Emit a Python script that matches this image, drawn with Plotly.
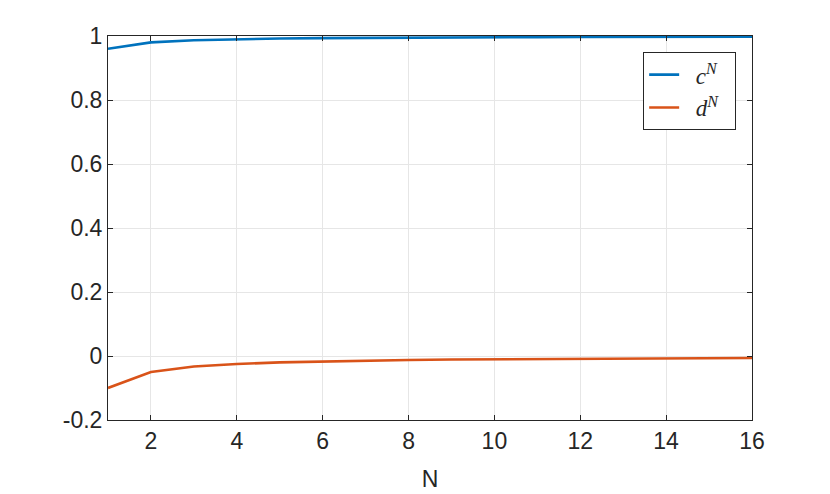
import plotly.graph_objects as go

n_vals = list(range(1, 17))
c_vals = [0.960, 0.980, 0.9867, 0.990, 0.992, 0.9933, 0.9943, 0.995,
          0.9956, 0.996, 0.9964, 0.9967, 0.9969, 0.9971, 0.9973, 0.9975]
d_vals = [-0.100, -0.050, -0.033, -0.025, -0.020, -0.017, -0.014, -0.0125,
          -0.011, -0.010, -0.009, -0.0083, -0.0077, -0.0071, -0.0067, -0.0063]

x_ticks = [2, 4, 6, 8, 10, 12, 14, 16]
y_ticks = [-0.2, 0, 0.2, 0.4, 0.6, 0.8, 1]
y_ticktext = ["-0.2", "0", "0.2", "0.4", "0.6", "0.8", "1"]

axis_color = "#262626"
grid_color = "#e6e6e6"
tick_font = dict(family="Liberation Sans, Arial", size=23, color=axis_color)

fig = go.Figure()
fig.add_trace(go.Scatter(x=n_vals, y=c_vals, mode="lines",
                         name="\u2002<i>c</i><sup><i>N</i>\u00a0\u00a0\u00a0</sup>",
                         line=dict(color="#0072BD", width=2.6)))
fig.add_trace(go.Scatter(x=n_vals, y=d_vals, mode="lines",
                         name="\u2002<i>d</i><sup><i>N</i>\u00a0\u00a0\u00a0</sup>",
                         line=dict(color="#D95319", width=2.6)))

axis_common = dict(
    showline=True, linecolor=axis_color, linewidth=1, mirror="ticks",
    ticks="inside", ticklen=5, tickcolor=axis_color, tickwidth=1,
    showgrid=True, gridcolor=grid_color, gridwidth=1, zeroline=False,
    tickfont=tick_font,
)
fig.update_xaxes(range=[1, 16], tickvals=x_ticks,
                 title=dict(text="N", font=tick_font, standoff=18),
                 **axis_common)
fig.update_yaxes(range=[-0.2, 1], tickvals=y_ticks, ticktext=y_ticktext,
                 **axis_common)

# page has an 8px body margin, so margins are offset to land the axes
fig.update_layout(
    width=830, height=494,
    margin=dict(l=100, r=86, t=28, b=82),
    plot_bgcolor="white", paper_bgcolor="white",
    legend=dict(x=0.831, y=0.958, xanchor="left", yanchor="top",
                bgcolor="white", bordercolor=axis_color, borderwidth=1,
                font=dict(family="Liberation Serif, Times New Roman", size=23,
                          color=axis_color),
                tracegroupgap=0),
)

fig.write_html("out.html")
